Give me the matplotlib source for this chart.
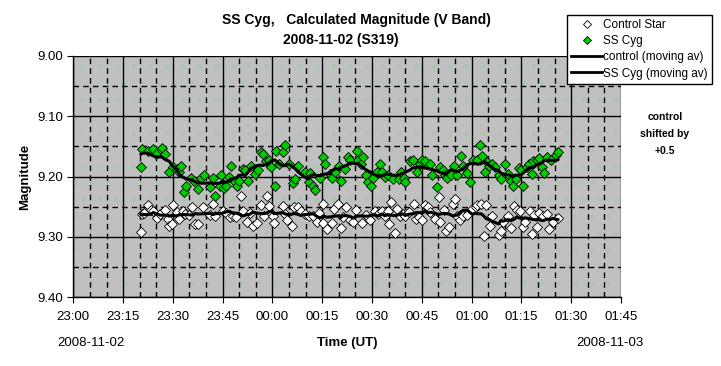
import matplotlib
matplotlib.use("Agg")
import matplotlib.pyplot as plt
from matplotlib.patches import Rectangle
from matplotlib.lines import Line2D
import pandas as pd

plt.rcParams['font.family'] = ['Liberation Sans', 'DejaVu Sans']
plt.rcParams['hatch.linewidth'] = 0.8

# minutes after 23:00 UT, magnitude
sscyg_t = [20.4, 20.7, 22.4, 23.9, 24.9, 26.7, 27.7, 28.9, 29.9, 31.1, 31.7, 32.4, 33.4, 33.9,
           35.4, 36.5, 37.5, 38.5, 39.5, 41.3, 42.1, 42.6, 44.1, 44.6, 45.4, 46.1, 46.8, 47.4,
           48.6, 49.4, 49.8, 51.1, 51.8, 52.6, 53.4, 54.6, 55.6, 56.6, 57.1, 58.1, 59.1, 59.6,
           60.7, 61.2, 61.9, 63.1, 63.8, 65.1, 66.3, 66.8, 67.8, 69.8, 71.0, 71.3, 72.3, 72.8,
           74.3, 75.1, 75.8, 77.3, 77.8, 78.8, 80.1, 80.5, 81.8, 82.8, 83.3, 85.4, 85.9, 86.7,
           87.4, 88.1, 88.8, 89.8, 90.2, 91.5, 92.5, 93.0, 94.0, 94.8, 96.2, 98.0, 98.8, 99.5,
           100.0, 101.5, 102.2, 103.5, 104.5, 105.0, 106.1, 107.6, 108.1, 109.6, 110.6, 111.4,
           111.9, 112.7, 113.7, 114.7, 115.5, 116.7, 117.5, 118.7, 119.5, 120.5, 121.7, 122.5,
           123.2, 123.9, 124.5, 125.2, 126.2, 126.9, 128.1, 128.8, 130.1, 131.1, 131.8, 132.5,
           133.3, 134.2, 134.8, 135.5, 136.6, 137.4, 138.2, 138.6, 139.6, 140.4, 141.2, 141.9,
           142.7, 144.0, 145.3, 146.0]
sscyg_mag = [9.185, 9.155, 9.157, 9.155, 9.162, 9.153, 9.162, 9.193, 9.185, 9.187, 9.193, 9.183,
             9.226, 9.215, 9.203, 9.207, 9.220, 9.203, 9.198, 9.218, 9.203, 9.233, 9.215, 9.198,
             9.219, 9.215, 9.201, 9.182, 9.209, 9.216, 9.208, 9.187, 9.190, 9.207, 9.182, 9.196,
             9.190, 9.160, 9.162, 9.175, 9.172, 9.185, 9.215, 9.158, 9.179, 9.160, 9.148, 9.179,
             9.211, 9.204, 9.183, 9.193, 9.209, 9.194, 9.215, 9.223, 9.203, 9.168, 9.179, 9.196,
             9.203, 9.193, 9.182, 9.208, 9.187, 9.168, 9.172, 9.157, 9.173, 9.180, 9.168, 9.197,
             9.209, 9.216, 9.203, 9.193, 9.179, 9.193, 9.200, 9.197, 9.204, 9.204, 9.193, 9.203,
             9.209, 9.175, 9.173, 9.193, 9.180, 9.173, 9.175, 9.179, 9.198, 9.218, 9.185, 9.190,
             9.197, 9.203, 9.198, 9.183, 9.197, 9.166, 9.182, 9.194, 9.209, 9.173, 9.173, 9.148,
             9.166, 9.192, 9.176, 9.183, 9.179, 9.185, 9.198, 9.204, 9.180, 9.196, 9.208, 9.216,
             9.204, 9.186, 9.190, 9.215, 9.185, 9.179, 9.196, 9.175, 9.172, 9.169, 9.185, 9.194,
             9.168, 9.172, 9.165, 9.160]

control_t = [20.4, 20.7, 21.4, 22.4, 23.4, 24.1, 25.1, 26.1, 27.7, 28.4, 28.9, 29.7, 30.1, 31.1,
             31.9, 32.9, 33.7, 34.9, 35.9, 36.7, 37.5, 39.0, 41.3, 42.1, 42.8, 45.1, 46.1, 47.1,
             48.1, 49.1, 50.4, 51.1, 52.4, 53.1, 54.1, 55.4, 56.6, 57.4, 58.4, 59.1, 60.1, 60.4,
             63.1, 63.8, 64.5, 65.8, 66.5, 67.8, 68.5, 69.8, 71.1, 72.3, 73.3, 74.1, 75.1, 75.3,
             76.3, 77.8, 78.5, 79.8, 80.5, 81.1, 82.3, 83.3, 84.4, 85.1, 86.9, 88.1, 89.5, 90.8,
             91.8, 93.0, 93.8, 94.8, 95.2, 95.8, 96.8, 97.5, 98.5, 99.2, 100.0, 101.2, 102.5,
             103.2, 104.0, 105.0, 106.1, 106.8, 107.6, 109.1, 110.1, 110.4, 111.6, 112.4, 113.1,
             114.4, 115.1, 115.6, 116.4, 117.5, 118.7, 120.2, 121.2, 121.7, 122.9, 123.7, 124.3,
             125.5, 126.2, 128.1, 128.8, 129.5, 131.1, 131.8, 132.8, 133.6, 134.6, 135.4, 136.2,
             137.6, 138.2, 138.9, 139.6, 140.3, 141.5, 142.7, 143.3, 144.5, 146.0]
control_mag = [9.292, 9.262, 9.260, 9.247, 9.255, 9.258, 9.269, 9.262, 9.255, 9.270, 9.282, 9.279,
               9.247, 9.259, 9.270, 9.257, 9.262, 9.264, 9.251, 9.279, 9.279, 9.251, 9.264, 9.246,
               9.265, 9.257, 9.260, 9.268, 9.266, 9.268, 9.233, 9.258, 9.276, 9.260, 9.282, 9.277,
               9.247, 9.266, 9.232, 9.249, 9.265, 9.277, 9.249, 9.262, 9.273, 9.282, 9.251, 9.251,
               9.257, 9.262, 9.265, 9.265, 9.275, 9.260, 9.277, 9.246, 9.287, 9.277, 9.254, 9.246,
               9.286, 9.268, 9.251, 9.273, 9.276, 9.255, 9.277, 9.264, 9.273, 9.257, 9.262, 9.257,
               9.265, 9.258, 9.279, 9.243, 9.293, 9.254, 9.265, 9.262, 9.265, 9.259, 9.246, 9.270,
               9.268, 9.273, 9.247, 9.251, 9.259, 9.270, 9.234, 9.275, 9.255, 9.290, 9.283, 9.246,
               9.237, 9.266, 9.273, 9.265, 9.264, 9.254, 9.251, 9.248, 9.246, 9.298, 9.248, 9.282,
               9.266, 9.297, 9.290, 9.276, 9.266, 9.286, 9.249, 9.255, 9.258, 9.283, 9.275, 9.257,
               9.295, 9.264, 9.283, 9.260, 9.265, 9.262, 9.287, 9.275, 9.269]

tick_labels = ['23:00', '23:15', '23:30', '23:45', '00:00', '00:15', '00:30', '00:45',
               '01:00', '01:15', '01:30', '01:45']

# moving averages, as in the sheet
sscyg_avg = pd.Series(sscyg_mag).rolling(9, center=True, min_periods=1).mean()
control_avg = pd.Series(control_mag).rolling(9, center=True, min_periods=1).mean()

fig = plt.figure(figsize=(7.21, 3.66), dpi=100)
ax = fig.add_axes([0.1017, 0.1885, 0.7596, 0.6585])

ax.set_facecolor('#c0c0c0')
ax.add_patch(Rectangle((0, 0), 1, 1, transform=ax.transAxes, facecolor='none',
                       edgecolor='#adc6ad', hatch='.', linewidth=0, zorder=0))

ax.set_xlim(0, 165)
ax.set_ylim(9.40, 9.00)
ax.set_xticks([i * 15 for i in range(12)])
ax.set_xticklabels(tick_labels)
ax.set_xticks([i * 5 for i in range(34)], minor=True)
ax.set_yticks([9.0, 9.1, 9.2, 9.3, 9.4])
ax.set_yticklabels(['9.00', '9.10', '9.20', '9.30', '9.40'])
ax.set_yticks([9.05, 9.15, 9.25, 9.35], minor=True)

ax.grid(which='major', color='black', linestyle='-', linewidth=1)
ax.grid(which='minor', color='black', linestyle=(0, (4, 3)), linewidth=1)
ax.set_axisbelow(True)
ax.tick_params(axis='both', which='major', direction='out', length=4, labelsize=9.5,
               colors='black')
ax.tick_params(axis='x', which='major', pad=6)
ax.tick_params(which='minor', length=0)
for s in ['top', 'right']:
    ax.spines[s].set_visible(False)
for s in ['left', 'bottom']:
    ax.spines[s].set_color('black')
    ax.spines[s].set_linewidth(1)

ax.plot(control_t, control_mag, linestyle='none', marker='D', markersize=5,
        markerfacecolor='white', markeredgecolor='black', markeredgewidth=0.6, zorder=3)
ax.plot(sscyg_t, sscyg_mag, linestyle='none', marker='D', markersize=5,
        markerfacecolor='#00cc00', markeredgecolor='black', markeredgewidth=0.6, zorder=3)
ax.plot(control_t, control_avg, color='black', linewidth=2.2, zorder=4)
ax.plot(sscyg_t, sscyg_avg, color='black', linewidth=2.2, zorder=4)

ax.set_ylabel('Magnitude', fontsize=9.5, fontweight='bold', labelpad=4)
ax.set_xlabel('Time (UT)', fontsize=9.5, fontweight='bold', labelpad=10)

fig.text(222 / 721, 1 - 20 / 366, 'SS Cyg,   Calculated Magnitude (V Band)', ha='left',
         va='center', fontsize=10, fontweight='bold')
fig.text(283 / 721, 1 - 40 / 366, '2008-11-02 (S319)', ha='left', va='center',
         fontsize=10, fontweight='bold')
fig.text(91 / 721, 1 - 343 / 366, '2008-11-02', ha='center', va='center', fontsize=9.5)
fig.text(610 / 721, 1 - 343 / 366, '2008-11-03', ha='center', va='center', fontsize=9.5)
fig.text(665 / 721, 1 - 134 / 366, 'control\nshifted by\n+0.5', ha='center', va='center',
         fontsize=7.5, fontweight='bold', linespacing=1.9)

handles = [
    Line2D([], [], linestyle='none', marker='D', markersize=4, markerfacecolor='white',
           markeredgecolor='black', markeredgewidth=0.6),
    Line2D([], [], linestyle='none', marker='D', markersize=4, markerfacecolor='#00cc00',
           markeredgecolor='black', markeredgewidth=0.6),
    Line2D([], [], color='black', linewidth=2),
    Line2D([], [], color='black', linewidth=2),
]
leg = fig.legend(handles, ['Control Star', 'SS Cyg', 'control (moving av)',
                           'SS Cyg (moving av)'],
                 loc='upper right', bbox_to_anchor=(712 / 721, 1 - 15 / 366),
                 fontsize=8.5, frameon=True, fancybox=False, handlelength=2.6,
                 handletextpad=0.1, labelspacing=0.35, borderpad=0.35, borderaxespad=0)
leg.get_frame().set_edgecolor('black')
leg.get_frame().set_linewidth(1)
leg.get_frame().set_alpha(1)

fig.savefig('out.png', dpi=100)
